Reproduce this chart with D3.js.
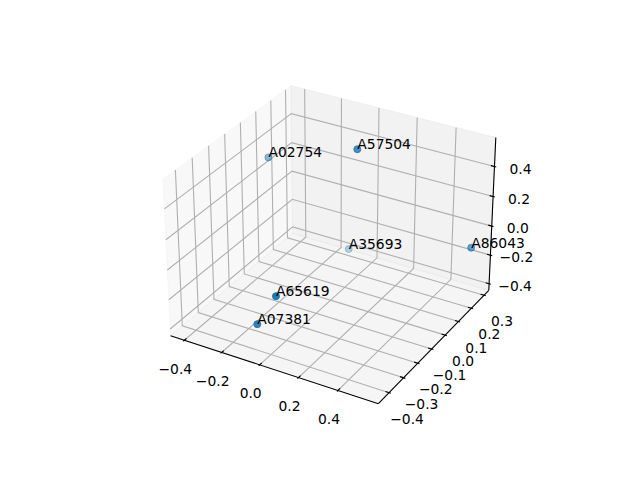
<!DOCTYPE html>
<html><head><meta charset="utf-8">
<style>html,body{margin:0;padding:0;background:#fff}svg{display:block}text{font-family:"DejaVu Sans";font-size:13.89px;fill:#000}</style>
<script src="https://cdnjs.cloudflare.com/ajax/libs/d3/7.8.5/d3.min.js"></script>
</head><body><div id="chart"></div>
<script>
const labels = ["A02754","A57504","A35693","A86043","A65619","A07381"];
const xValues = [-0.448, 0.098, -0.137, 0.576, 0.0665, -0.031];
const yValues = [0.145, 0.053, 0.311, 0.217, -0.443, -0.445];
const zValues = [0.256, 0.565, -0.412, -0.053, 0.012, -0.211];
const xTicks = [-0.4,-0.2,0,0.2,0.4];
const yTicks = [-0.4,-0.3,-0.2,-0.1,0,0.1,0.2,0.3];
const zTicks = [-0.4,-0.2,0,0.2,0.4];
const xLim = [-0.475,0.60], yLim = [-0.4725,0.338], zLim = [-0.447,0.59];

const W=640,H=480;
const svg=d3.select("#chart").append("svg").attr("width",W).attr("height",H);
const bx=d3.scaleLinear().domain(xLim).range([-0.5953,0.5953]);
const by=d3.scaleLinear().domain(yLim).range([-0.5953,0.5953]);
const bz=d3.scaleLinear().domain(zLim).range([-0.4464,0.4464]);
const el=30*Math.PI/180, az=-60*Math.PI/180, dist=10;
const n=[Math.cos(el)*Math.cos(az),Math.cos(el)*Math.sin(az),Math.sin(el)];
const U=[-Math.sin(az),Math.cos(az),0];
const V=[-Math.sin(el)*Math.cos(az),-Math.sin(el)*Math.sin(az),Math.cos(el)];
const dot=(a,b)=>a[0]*b[0]+a[1]*b[1]+a[2]*b[2];
const px=d3.scaleLinear().domain([0,1]).range([332.6,2332.6]);
const py=d3.scaleLinear().domain([0,1]).range([237,-1763]);
function proj(x,y,z){
  const p=[bx(x),by(y),bz(z)], w=dist-dot(p,n);
  return [px(dot(p,U)/w),py(dot(p,V)/w),dot(p,n)];
}
const line=d3.line();
const path=pts=>line(pts.map(p=>proj(...p).slice(0,2)));
const [x0,x1]=xLim,[y0,y1]=yLim,[z0,z1]=zLim;
const panes=[
 {pts:[[x0,y0,z0],[x0,y1,z0],[x0,y1,z1],[x0,y0,z1]],col:"rgba(242,242,242,0.5)"},
 {pts:[[x0,y1,z0],[x1,y1,z0],[x1,y1,z1],[x0,y1,z1]],col:"rgba(230,230,230,0.5)"},
 {pts:[[x0,y0,z0],[x1,y0,z0],[x1,y1,z0],[x0,y1,z0]],col:"rgba(236,236,236,0.5)"}
];
svg.append("g").selectAll("path").data(panes).join("path")
 .attr("d",d=>path(d.pts)+"Z").attr("fill",d=>d.col).attr("stroke",d=>d.col).attr("stroke-width",1);
const grid=svg.append("g").attr("fill","none").attr("stroke","#b0b0b0").attr("stroke-width",1.11);
xTicks.forEach(t=>grid.append("path").attr("d",path([[t,y0,z0],[t,y1,z0],[t,y1,z1]])));
yTicks.forEach(t=>grid.append("path").attr("d",path([[x1,t,z0],[x0,t,z0],[x0,t,z1]])));
zTicks.forEach(t=>grid.append("path").attr("d",path([[x0,y0,t],[x0,y1,t],[x1,y1,t]])));
const ax=svg.append("g").attr("fill","none").attr("stroke","#000").attr("stroke-width",1.11);
ax.append("path").attr("d",path([[x0,y0,z0],[x1,y0,z0]]));
ax.append("path").attr("d",path([[x1,y0,z0],[x1,y1,z0]]));
ax.append("path").attr("d",path([[x1,y1,z0],[x1,y1,z1]]));
const fmt=t=>d3.format(".1f")(Math.abs(t)<1e-9?0:t).replace("-","\u2212");
const dx=x1-x0,dy=y1-y0;
const oF=0.1/12,iF=0.2/12;
const tl=svg.append("g").attr("text-anchor","middle");
function tickMark(a,b){
  ax.append("path").attr("d",path([a,b]));
}
function lab(p,t,ox,oy){
  const q=proj(...p);
  tl.append("text").attr("x",q[0]+ox).attr("y",q[1]+oy).attr("dy","0.36em").text(fmt(t));
}
xTicks.forEach(t=>{tickMark([t,y0-oF*dy,z0],[t,y0+iF*dy,z0]);lab([t,y0,z0],t,-9,28.5);});
yTicks.forEach(t=>{tickMark([x1+oF*dx,t,z0],[x1-iF*dx,t,z0]);lab([x1,t,z0],t,18,26);});
zTicks.forEach(t=>{tickMark([x1+oF*dx,y1,t],[x1-iF*dx,y1,t]);lab([x1,y1,t],t,26,2);});
const data=labels.map((l,i)=>{const q=proj(xValues[i],yValues[i],zValues[i]);return {l,x:q[0],y:q[1],d:q[2]};});
const alpha=d3.scaleLinear().domain(d3.extent(data,d=>d.d)).range([0.3,1]);
const order=data.slice().sort((a,b)=>a.d-b.d);
svg.append("g").selectAll("circle").data(order).join("circle")
 .attr("cx",d=>d.x).attr("cy",d=>d.y).attr("r",3.5)
 .attr("fill","#1f77b4").attr("stroke","#1f77b4").attr("stroke-width",1)
 .attr("fill-opacity",d=>alpha(d.d)).attr("stroke-opacity",d=>alpha(d.d));
svg.append("g").selectAll("text").data(data).join("text")
 .attr("x",d=>d.x).attr("y",d=>d.y).text(d=>d.l);
</script></body></html>
